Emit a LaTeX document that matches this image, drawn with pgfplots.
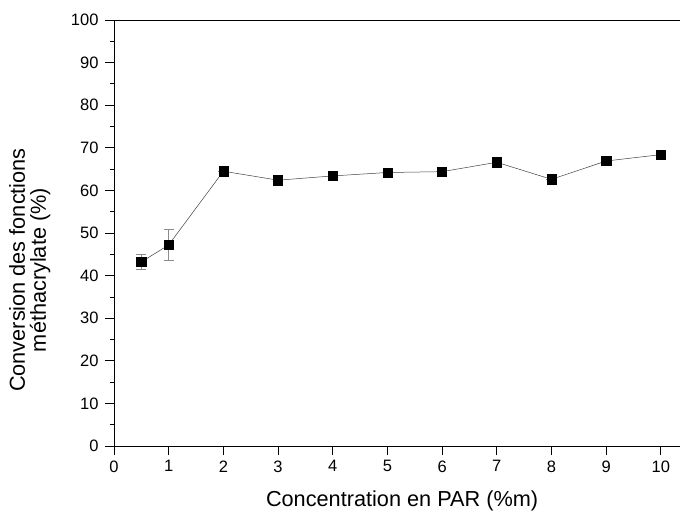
\documentclass[border=0pt]{standalone}
\usepackage{pgfplots}
\pgfplotsset{compat=1.18}
\usepackage{fontspec}
\setmainfont{Liberation Sans}
\begin{document}
\begin{tikzpicture}
\begin{axis}[
  name=ax,
  scale only axis,
  width=566pt, height=426pt,
  xmin=0, xmax=10.35, ymin=0, ymax=100,
  xtick={0,1,...,10}, ytick={0,10,...,100},
  minor y tick num=1,
  xtick pos=left, ytick pos=left,
  tick align=outside,
  major tick length=9pt, minor tick length=4pt,
  every tick/.style={black, line width=0.8pt},
  axis line style={line width=0.9pt},
  /pgf/number format/assume math mode=true,
  tick label style={font=\fontsize{16.5}{19}\selectfont},
  xticklabel style={yshift=-2pt},
  yticklabel style={xshift=-3pt},
  label style={font=\fontsize{21.7}{21}\selectfont},
  xlabel={Concentration en PAR (\%m)},
  ylabel={Conversion des fonctions\\méthacrylate (\%)},
  xlabel style={at={(axis description cs:0.509,0)}, anchor=base, yshift=-60pt, inner sep=0pt},
  ylabel style={align=center, at={(axis description cs:-0.112,0.413)}, anchor=south, inner sep=0pt},
  clip=false,
]
\addplot[color=black!75, line width=0.5pt, mark=square*, mark size=4.6pt,
  mark options={solid, fill=black, draw=black},
  error bars/.cd, y dir=both, y explicit,
  error bar style={color=black!45, line width=0.7pt},
  error mark options={rotate=90, mark size=5pt, color=black!45, line width=0.7pt}]
coordinates {
(0.5,43.2) +- (0,1.7)
(1,47.2) +- (0,3.7)
(2,64.5) +- (0,0)
(3,62.4) +- (0,0)
(4,63.4) +- (0,0)
(5,64.2) +- (0,0)
(6,64.4) +- (0,0)
(7,66.6) +- (0,0)
(8,62.6) +- (0,0)
(9,66.9) +- (0,0)
(10,68.4) +- (0,0)
};
\end{axis}
\pgfresetboundingbox
\path[use as bounding box] (ax.south west) ++(-114pt,-66pt) rectangle ++(680pt,512pt);
\end{tikzpicture}
\end{document}
